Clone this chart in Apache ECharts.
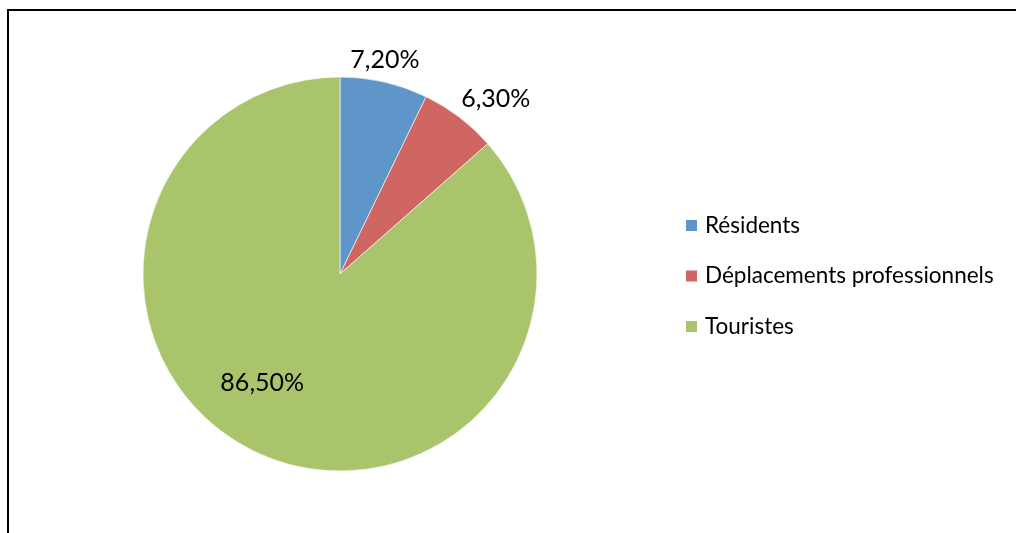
<!DOCTYPE html>
<html>
<head>
<meta charset="utf-8">
<script src="https://cdn.jsdelivr.net/npm/echarts@6/dist/echarts.min.js"></script>
<style>
  html, body { margin: 0; padding: 0; background: #fff; }
  #chart { width: 1016px; height: 533px; }
</style>
</head>
<body>
<div id="chart"></div>
<script>
// Répartition des nuitées par type de clientèle
const categories = ['Résidents', 'Déplacements professionnels', 'Touristes'];
const shares = [7.2, 6.3, 86.5];
const sliceColors = ['#5F96C9', '#CF6661', '#AAC46C'];

const fmt = v => v.toFixed(2).replace('.', ',') + '%';

// label nudges (px) relative to the default pie label spots
const labelSpots = [
  { position: 'outside', offset: [-43, -5] },
  { position: 'outside', offset: [-14, -4] },
  { position: 'inside', offset: [-36, 16] }
];

const chart = echarts.init(document.getElementById('chart'));
chart.setOption({
  animation: false,
  backgroundColor: '#fff',
  color: sliceColors,
  graphic: [{
    type: 'rect',
    shape: { x: 8, y: 10, width: 1200, height: 700 },
    style: { fill: 'none', stroke: '#000', lineWidth: 2 },
    silent: true
  }],
  legend: {
    orient: 'vertical',
    left: 684,
    top: 214,
    padding: 0,
    icon: 'rect',
    itemWidth: 13,
    itemHeight: 13,
    itemGap: 27.5,
    textStyle: { fontFamily: 'Lato', fontSize: 22.5, color: '#000', lineHeight: 20, padding: [0, 0, 0, 2] },
    data: categories
  },
  series: [{
    type: 'pie',
    center: [340, 274],
    radius: 197,
    startAngle: 90,
    clockwise: true,
    avoidLabelOverlap: false,
    itemStyle: { borderColor: '#fff', borderWidth: 0.6 },
    labelLine: { show: false, length: 18, length2: 0 },
    label: {
      fontFamily: 'Lato',
      fontSize: 25,
      color: '#000',
      formatter: p => fmt(p.value)
    },
    data: categories.map((name, i) => ({ name, value: shares[i], label: labelSpots[i] }))
  }]
});
</script>
</body>
</html>
